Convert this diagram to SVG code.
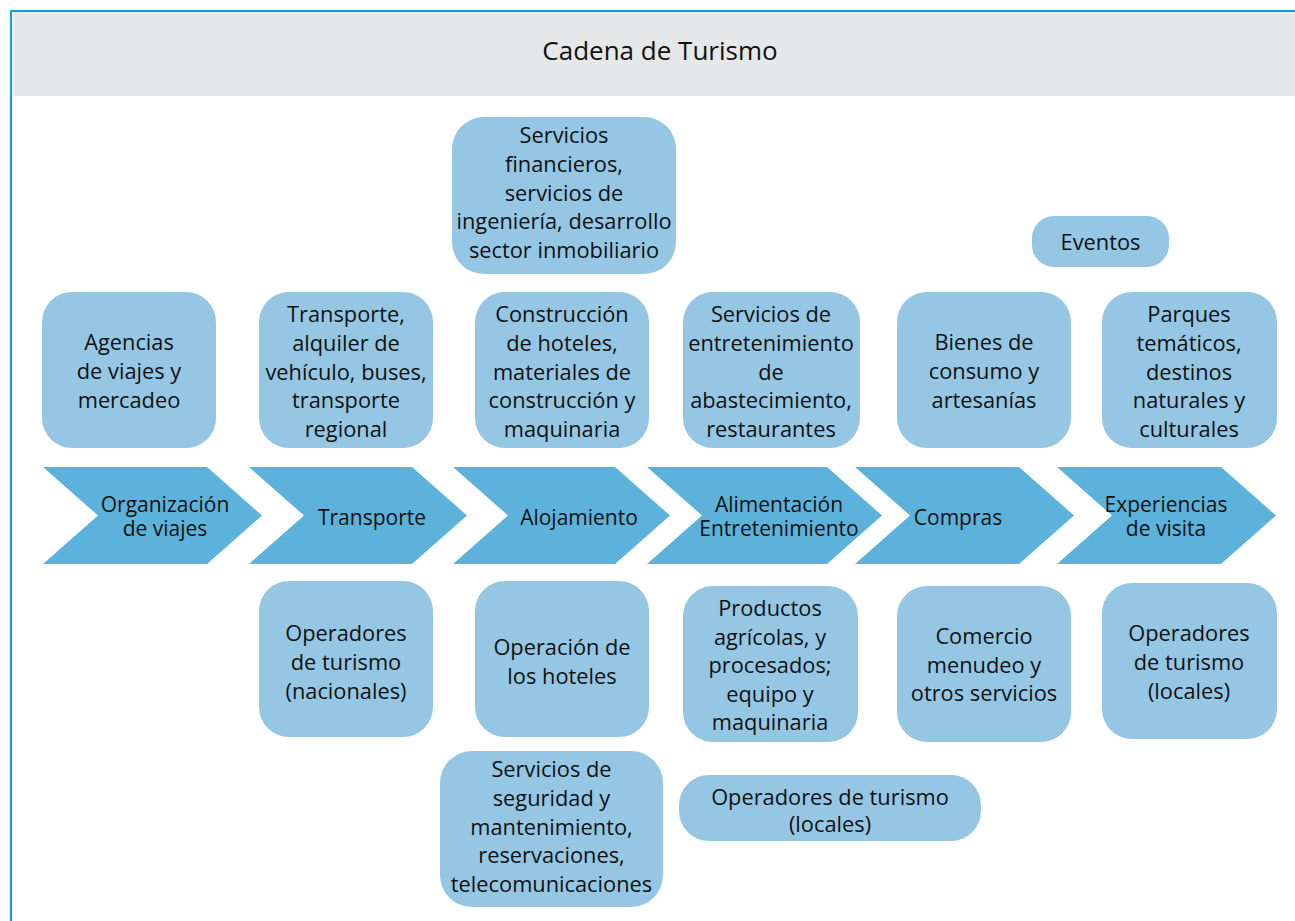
<svg xmlns="http://www.w3.org/2000/svg" width="1295" height="921" viewBox="0 0 1295 921">
<style>
text{font-family:"Open Sans","Noto Sans","DejaVu Sans",sans-serif;fill:#111;text-anchor:middle;dominant-baseline:central}
.b{fill:#95c7e5}
.c{fill:#5cb2da}
.t{font-size:21.8px}
.ct{font-size:21px}
</style>
<rect x="0" y="0" width="1295" height="921" fill="#fff"/>
<rect x="13" y="12" width="1282" height="84" fill="#e6e7e8"/>
<path d="M11 921 V11 H1295" fill="none" stroke="#0aa0dc" stroke-width="2"/>
<text x="660" y="50" style="font-size:26px">Cadena de Turismo</text>

<g id="ch-organizacion"><polygon class="c" points="43,467 207,467 262,515.5 207,564 43,564 98,515.5"/><text class="ct" x="165" y="504">Organización<tspan x="165" dy="24">de viajes</tspan></text></g>
<g id="ch-transporte"><polygon class="c" points="249,467 412,467 467,515.5 412,564 249,564 304,515.5"/><text class="ct" x="372" y="517">Transporte</text></g>
<g id="ch-alojamiento"><polygon class="c" points="453,467 615,467 670,515.5 615,564 453,564 508,515.5"/><text class="ct" x="579" y="517">Alojamiento</text></g>
<g id="ch-alimentacion"><polygon class="c" points="647,467 827,467 882,515.5 827,564 647,564 702,515.5"/><text class="ct" x="779" y="504">Alimentación<tspan x="779" dy="24">Entretenimiento</tspan></text></g>
<g id="ch-compras"><polygon class="c" points="855,467 1019,467 1074,515.5 1019,564 855,564 910,515.5"/><text class="ct" x="958" y="517">Compras</text></g>
<g id="ch-experiencias"><polygon class="c" points="1057,467 1221,467 1276,515.5 1221,564 1057,564 1112,515.5"/><text class="ct" x="1166" y="504">Experiencias<tspan x="1166" dy="24">de visita</tspan></text></g>

<g id="n-agencias"><rect class="b" x="42" y="292" width="174" height="156" rx="30"/><text class="t" x="129" y="341">Agencias<tspan x="129" dy="29">de viajes y</tspan><tspan x="129" dy="29">mercadeo</tspan></text></g>
<g id="n-transporte"><rect class="b" x="259" y="292" width="174" height="156" rx="30"/><text class="t" x="346" y="313">Transporte,<tspan x="346" dy="28.75">alquiler de</tspan><tspan x="346" dy="28.75">vehículo, buses,</tspan><tspan x="346" dy="28.75">transporte</tspan><tspan x="346" dy="28.75">regional</tspan></text></g>
<g id="n-construccion"><rect class="b" x="475" y="292" width="174" height="156" rx="30"/><text class="t" x="562" y="313">Construcción<tspan x="562" dy="28.75">de hoteles,</tspan><tspan x="562" dy="28.75">materiales de</tspan><tspan x="562" dy="28.75">construcción y</tspan><tspan x="562" dy="28.75">maquinaria</tspan></text></g>
<g id="n-entretenimiento"><rect class="b" x="683" y="292" width="177" height="156" rx="30"/><text class="t" x="771" y="313">Servicios de<tspan x="771" dy="28.75">entretenimiento</tspan><tspan x="771" dy="28.75">de</tspan><tspan x="771" dy="28.75">abastecimiento,</tspan><tspan x="771" dy="28.75">restaurantes</tspan></text></g>
<g id="n-bienes"><rect class="b" x="897" y="292" width="174" height="156" rx="30"/><text class="t" x="984" y="341">Bienes de<tspan x="984" dy="29">consumo y</tspan><tspan x="984" dy="29">artesanías</tspan></text></g>
<g id="n-parques"><rect class="b" x="1102" y="292" width="175" height="156" rx="30"/><text class="t" x="1189" y="313">Parques<tspan x="1189" dy="28.75">temáticos,</tspan><tspan x="1189" dy="28.75">destinos</tspan><tspan x="1189" dy="28.75">naturales y</tspan><tspan x="1189" dy="28.75">culturales</tspan></text></g>
<g id="n-financieros"><rect class="b" x="452" y="117" width="224" height="157" rx="32"/><text class="t" x="564" y="134">Servicios<tspan x="564" dy="28.75">financieros,</tspan><tspan x="564" dy="28.75">servicios de</tspan><tspan x="564" dy="28.75">ingeniería, desarrollo</tspan><tspan x="564" dy="28.75">sector inmobiliario</tspan></text></g>
<g id="n-eventos"><rect class="b" x="1032" y="216" width="137" height="51" rx="22"/><text class="t" x="1100.5" y="241">Eventos</text></g>

<g id="n-operadores-nac"><rect class="b" x="259" y="581" width="174" height="156" rx="30"/><text class="t" x="346" y="632">Operadores<tspan x="346" dy="29">de turismo</tspan><tspan x="346" dy="29">(nacionales)</tspan></text></g>
<g id="n-operacion"><rect class="b" x="475" y="581" width="174" height="156" rx="30"/><text class="t" x="562" y="646">Operación de<tspan x="562" dy="28.5">los hoteles</tspan></text></g>
<g id="n-productos"><rect class="b" x="683" y="586" width="175" height="156" rx="30"/><text class="t" x="770" y="607">Productos<tspan x="770" dy="28.5">agrícolas, y</tspan><tspan x="770" dy="28.5">procesados;</tspan><tspan x="770" dy="28.5">equipo y</tspan><tspan x="770" dy="28.5">maquinaria</tspan></text></g>
<g id="n-comercio"><rect class="b" x="897" y="586" width="174" height="156" rx="30"/><text class="t" x="984" y="635">Comercio<tspan x="984" dy="28.5">menudeo y</tspan><tspan x="984" dy="28.5">otros servicios</tspan></text></g>
<g id="n-operadores-loc"><rect class="b" x="1102" y="583" width="175" height="156" rx="30"/><text class="t" x="1189" y="632">Operadores<tspan x="1189" dy="29">de turismo</tspan><tspan x="1189" dy="29">(locales)</tspan></text></g>
<g id="n-seguridad"><rect class="b" x="440" y="751" width="223" height="156" rx="32"/><text class="t" x="551.5" y="768">Servicios de<tspan x="551.5" dy="28.75">seguridad y</tspan><tspan x="551.5" dy="28.75">mantenimiento,</tspan><tspan x="551.5" dy="28.75">reservaciones,</tspan><tspan x="551.5" dy="28.75">telecomunicaciones</tspan></text></g>
<g id="n-operadores-loc2"><rect class="b" x="679" y="775" width="302" height="66" rx="30"/><text class="t" x="830" y="796">Operadores de turismo<tspan x="830" dy="27">(locales)</tspan></text></g>
<g id="connectors"></g>
</svg>
